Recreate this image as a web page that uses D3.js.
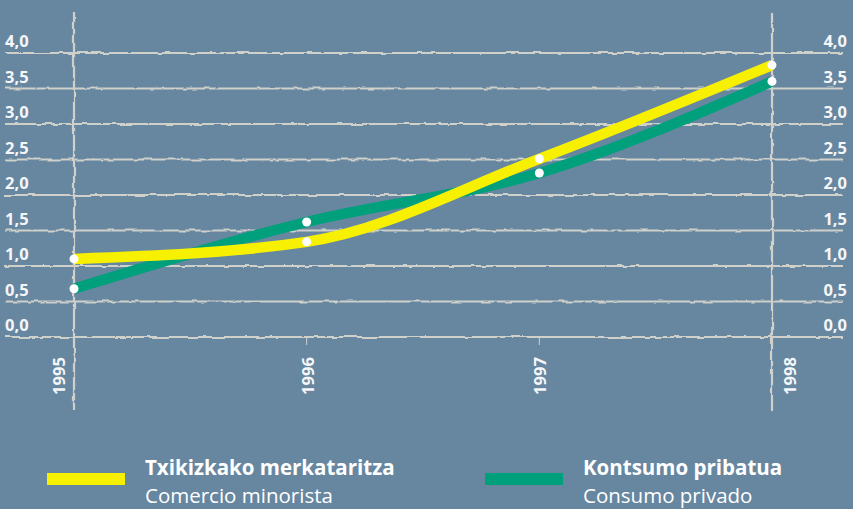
<!DOCTYPE html>
<html>
<head>
<meta charset="utf-8">
<script src="https://cdn.jsdelivr.net/npm/d3@7"></script>
<style>
  body { margin: 0; background: #6787a1; }
  svg { display: block; font-family: "Open Sans", sans-serif; }
</style>
</head>
<body>
<div id="chart"></div>
<script>
var years = [1995, 1996, 1997, 1998];
var comercio = [1.10, 1.34, 2.51, 3.83];   // Comercio minorista
var consumo = [0.68, 1.62, 2.31, 3.60];    // Consumo privado
var yTicks = [0, 0.5, 1, 1.5, 2, 2.5, 3, 3.5, 4];
var seriesNames = [
  {eu: "Txikizkako merkataritza", es: "Comercio minorista", color: "#f7f000"},
  {eu: "Kontsumo pribatua", es: "Consumo privado", color: "#00a07c"}
];

var width = 853, height = 509;

var svg = d3.select("#chart")
  .append("svg")
    .attr("width", width)
    .attr("height", height);

svg.append("rect")
    .attr("width", width)
    .attr("height", height)
    .attr("fill", "#6787a1");

// rough, hand drawn look for the grid
var defs = svg.append("defs");
var rough = defs.append("filter")
    .attr("id", "rough")
    .attr("filterUnits", "userSpaceOnUse")
    .attr("x", 0).attr("y", 0)
    .attr("width", width).attr("height", height);
rough.append("feTurbulence")
    .attr("type", "fractalNoise")
    .attr("baseFrequency", 0.09)
    .attr("numOctaves", 2)
    .attr("seed", 3)
    .attr("result", "noise");
rough.append("feDisplacementMap")
    .attr("in", "SourceGraphic")
    .attr("in2", "noise")
    .attr("scale", 3.5)
    .attr("xChannelSelector", "R")
    .attr("yChannelSelector", "G");

var x = d3.scaleLinear().domain([1995, 1998]).range([74, 772]);
var y = d3.scaleLinear().domain([0, 4]).range([337, 53]);
var fmt = function(d) { return d3.format(".1f")(d).replace(".", ","); };

var grid = svg.append("g")
    .attr("filter", "url(#rough)")
    .attr("stroke", "#d0d0cb")
    .attr("stroke-width", 2.2)
    .attr("fill", "none");

grid.selectAll("line.h")
  .data(yTicks)
  .enter().append("line")
    .attr("class", "h")
    .attr("x1", 5)
    .attr("x2", 843)
    .attr("y1", function(d) { return y(d); })
    .attr("y2", function(d) { return y(d); });

grid.selectAll("line.v")
  .data([years[0], years[years.length - 1]])
  .enter().append("line")
    .attr("class", "v")
    .attr("x1", function(d) { return x(d); })
    .attr("x2", function(d) { return x(d); })
    .attr("y1", 12)
    .attr("y2", 410);

// small ticks for inner years
svg.append("g")
  .selectAll("line")
  .data(years.slice(1, -1))
  .enter().append("line")
    .attr("x1", function(d) { return x(d); })
    .attr("x2", function(d) { return x(d); })
    .attr("y1", y(0))
    .attr("y2", y(0) + 8)
    .attr("stroke", "#d0d0cb")
    .attr("stroke-width", 1);

// y labels both sides
var labelStyle = function(sel) {
  sel.attr("fill", "#f4f6f8")
     .attr("font-size", 16.5)
     .attr("font-weight", "bold")
     .text(function(d) { return fmt(d); });
};

svg.append("g")
  .selectAll("text")
  .data(yTicks)
  .enter().append("text")
    .attr("x", 5)
    .attr("y", function(d) { return y(d) - 6; })
    .call(labelStyle);

svg.append("g")
  .selectAll("text")
  .data(yTicks)
  .enter().append("text")
    .attr("x", 847)
    .attr("y", function(d) { return y(d) - 6; })
    .attr("text-anchor", "end")
    .call(labelStyle);

// year labels, rotated; end years sit beside their vertical line
var yearShift = function(d) {
  if (d == years[0]) return -15;
  if (d == years[years.length - 1]) return 18;
  return 1;
};

svg.append("g")
  .selectAll("text")
  .data(years)
  .enter().append("text")
    .attr("transform", function(d) { return "translate(" + (x(d) + yearShift(d)) + ",376) rotate(-90)"; })
    .attr("text-anchor", "middle")
    .attr("dy", "0.36em")
    .attr("fill", "#f4f6f8")
    .attr("font-size", 16.5)
    .attr("font-weight", "bold")
    .text(function(d) { return d; });

var line = d3.line()
    .x(function(d, i) { return x(years[i]); })
    .y(function(d) { return y(d); })
    .curve(d3.curveMonotoneX);

var series = [consumo, comercio];
var colors = [seriesNames[1].color, seriesNames[0].color];

svg.append("g")
  .selectAll("path")
  .data(series)
  .enter().append("path")
    .attr("d", line)
    .attr("fill", "none")
    .attr("stroke", function(d, i) { return colors[i]; })
    .attr("stroke-width", 10.5);

svg.append("g")
  .selectAll("g")
  .data(series)
  .enter().append("g")
  .selectAll("circle")
  .data(function(d) { return d; })
  .enter().append("circle")
    .attr("cx", function(d, i) { return x(years[i]); })
    .attr("cy", function(d) { return y(d); })
    .attr("r", 4.5)
    .attr("fill", "#ffffff");

// legend
var legend = svg.append("g")
  .selectAll("g")
  .data(seriesNames)
  .enter().append("g")
    .attr("transform", function(d, i) { return "translate(" + (i == 0 ? 47 : 485) + ",0)"; });

legend.append("rect")
    .attr("x", 0)
    .attr("y", 473)
    .attr("width", 78)
    .attr("height", 12)
    .attr("fill", function(d) { return d.color; });

legend.append("text")
    .attr("x", 98)
    .attr("y", 475)
    .attr("fill", "#ffffff")
    .attr("font-size", 20.5)
    .attr("font-weight", "bold")
    .text(function(d) { return d.eu; });

legend.append("text")
    .attr("x", 98)
    .attr("y", 503)
    .attr("fill", "#ffffff")
    .attr("font-size", 20.5)
    .text(function(d) { return d.es; });
</script>
</body>
</html>
